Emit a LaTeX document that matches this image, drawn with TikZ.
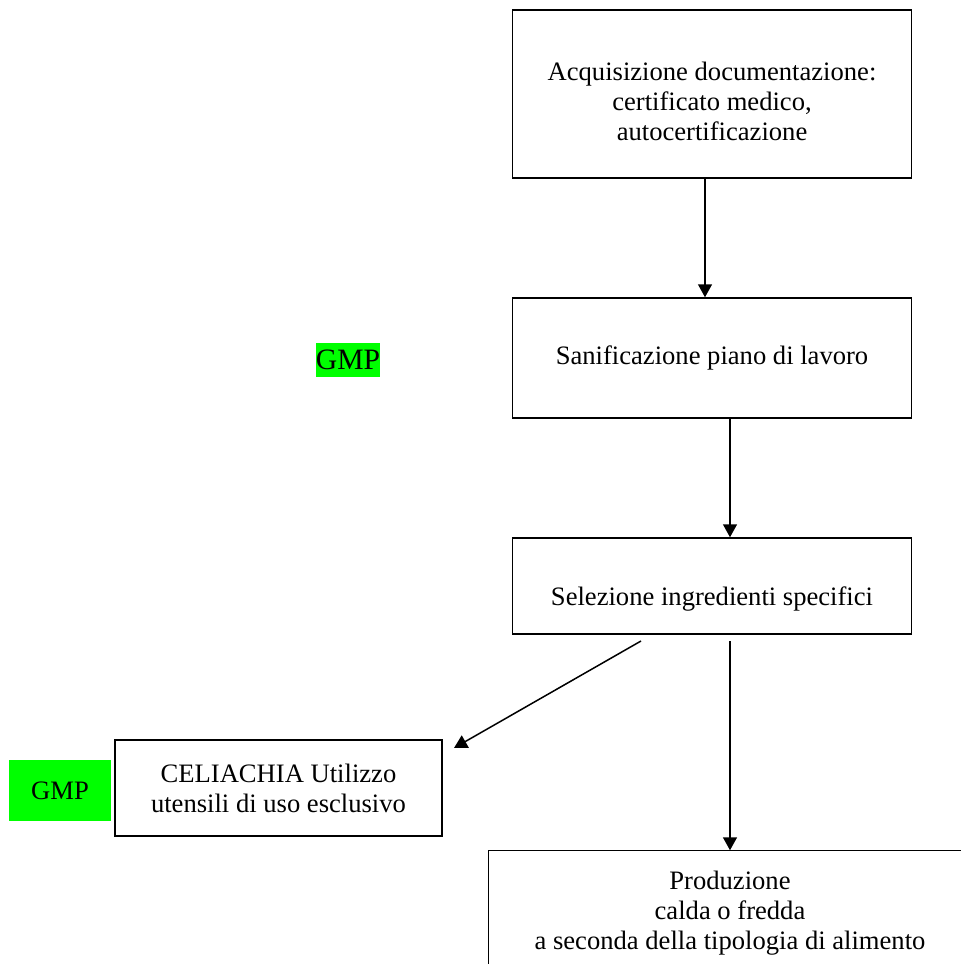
\documentclass[tikz,border=0pt]{standalone}
\usepackage{fontspec}
\setmainfont{Liberation Serif}
\usetikzlibrary{arrows.meta}

\begin{document}
\begin{tikzpicture}[x=0.5pt,y=-0.5pt,
    font=\fontsize{13.3}{15}\selectfont,
    box/.style={draw, line width=0.75pt, align=center, inner sep=0pt},
    arr/.style={line width=0.75pt, -{Triangle[length=6.5pt,width=7pt]}},
    gmp/.style={fill={rgb,255:red,0;green,255;blue,0}, inner sep=0pt}]
    % Page size
    \useasboundingbox (0,0) rectangle (961,964);
    \clip (0,0) rectangle (961,964);

    % Main boxes
    \node[box, minimum width=199.5pt, minimum height=84pt, text height=47pt] (acq) at (712,94)
        {Acquisizione documentazione:\\certificato medico,\\autocertificazione};
    \node[box, minimum width=199.5pt, minimum height=60pt] (sanif) at (712,358)
        {Sanificazione piano di lavoro};
    \node[box, minimum width=199.5pt, minimum height=48pt, text height=22pt] (sel) at (712,586)
        {Selezione ingredienti specifici};
    \node[box, minimum width=163.5pt, minimum height=48pt] (celiac) at (278.5,788)
        {CELIACHIA Utilizzo\\utensili di uso esclusivo};
    % last box runs off the page on the right and at the bottom
    \node[box, draw=none, minimum width=241pt, minimum height=62pt] (prod) at (730,913)
        {Produzione\\calda o fredda\\a seconda della tipologia di alimento};
    \draw[line width=0.75pt] (prod.south west) |- (prod.north east);

    % GMP labels
    \node[gmp, font=\fontsize{14.8}{16}\selectfont, minimum width=32pt, minimum height=17pt] (gmpa) at (348,360) {GMP};
    \node[gmp, minimum width=51pt, minimum height=30.5pt] (gmpb) at (60,790.5) {GMP};

    % Arrows
    \coordinate (xa) at (705,0);
    \coordinate (xb) at (730,0);
    \draw[arr] (acq.south -| xa) -- (sanif.north -| xa);
    \draw[arr] (sanif.south -| xb) -- (sel.north -| xb);

    \coordinate (diag) at (641,641);
    \coordinate (diagend) at (454,748);
    \draw[arr] (diag) -- (diagend); % to celiachia
    \coordinate (vert) at (730,641);
    \draw[arr] (vert) -- (prod.north); % to produzione
\end{tikzpicture}
\end{document}
